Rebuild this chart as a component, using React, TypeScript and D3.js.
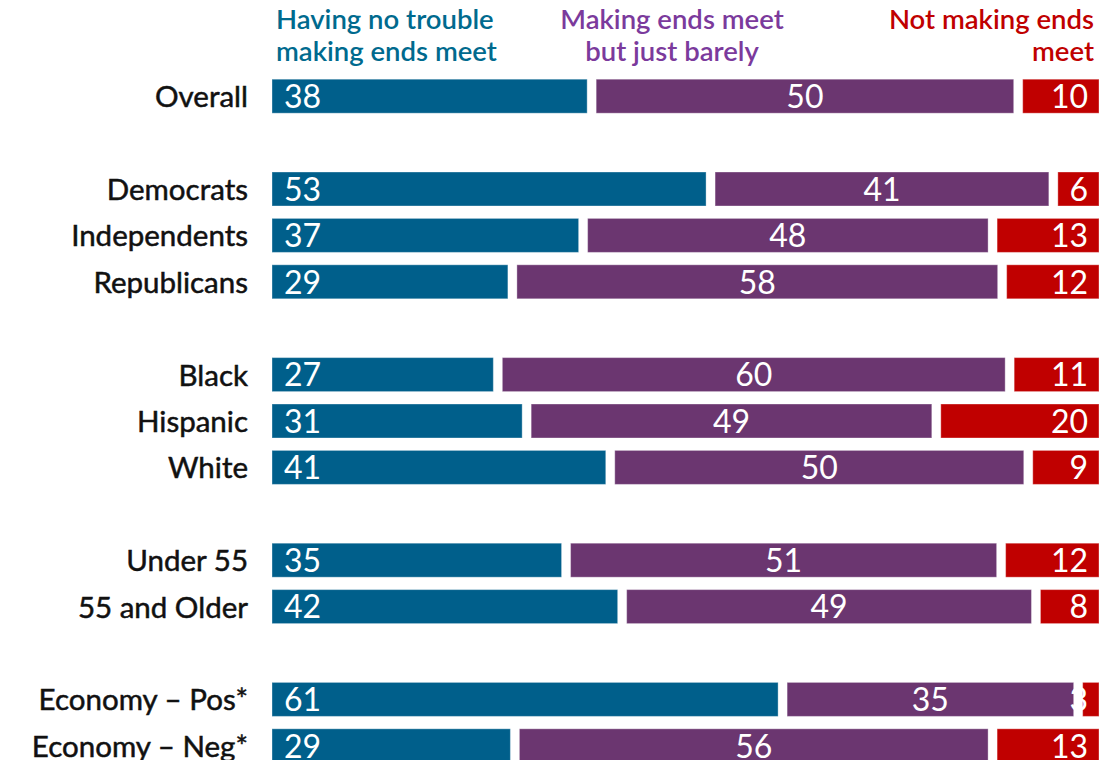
import React from "react";
import * as d3 from "d3";

const categories = [
  "Overall", "", "Democrats", "Independents", "Republicans", "",
  "Black", "Hispanic", "White", "", "Under 55", "55 and Older", "",
  "Economy – Pos*", "Economy – Neg*",
];
const noTrouble = [38, null, 53, 37, 29, null, 27, 31, 41, null, 35, 42, null, 61, 29];
const barely = [50, null, 41, 48, 58, null, 60, 49, 50, null, 51, 49, null, 35, 56];
const notMaking = [10, null, 6, 13, 12, null, 11, 20, 9, null, 12, 8, null, 3, 13];

const seriesNames = [
  ["Having no trouble", "making ends meet"],
  ["Making ends meet", "but just barely"],
  ["Not making ends", "meet"],
];
const barColors = ["#005F8B", "#6B3670", "#C00000"];
const headColors = ["#006A8E", "#7B3A9C", "#C00000"];

const W = 1117, H = 760;
const x0 = 272, x1 = 1099, gap = 9;
const font = "Lato, 'Open Sans', sans-serif";

export default function App() {
  const idx = categories.map((_, i) => i);
  const y = d3.scaleBand<number>().domain(idx).range([73, 769]).paddingInner(0).paddingOuter(0);
  const bh = 34;
  const rows = idx.filter((i) => noTrouble[i] !== null).map((i) => {
    const vals = [noTrouble[i] as number, barely[i] as number, notMaking[i] as number];
    const total = d3.sum(vals);
    const x = d3.scaleLinear().domain([0, total]).range([x0, x1 + gap]);
    let cum = 0;
    const segs = vals.map((v, k) => {
      const a = x(cum);
      cum += v;
      const b = x(cum) - gap;
      return { v, k, a, b };
    });
    return { i, segs };
  });
  return (
    <svg width={W} height={H} style={{ position: "absolute", left: 0, top: 0 }}>
      <rect width={W} height={H} fill="#fff" />
      {/* headers */}
      <g fontFamily={font} fontWeight={600} fontSize={27.5}>
        {seriesNames[0].map((t, j) => (
          <text key={"h0" + j} x={276} y={29 + j * 32} fill={headColors[0]}>{t}</text>
        ))}
        {seriesNames[1].map((t, j) => (
          <text key={"h1" + j} x={672} y={29 + j * 32} fill={headColors[1]} textAnchor="middle">{t}</text>
        ))}
        {seriesNames[2].map((t, j) => (
          <text key={"h2" + j} x={1094} y={29 + j * 32} fill={headColors[2]} textAnchor="end">{t}</text>
        ))}
      </g>
      {rows.map(({ i, segs }) => {
        const cy = (y(i) as number) + y.bandwidth() / 2;
        return (
          <g key={i}>
            <text x={248} y={cy} dy="0.37em" textAnchor="end" fontFamily={font} fontSize={29.5} fill="#111"
              stroke="#111" strokeWidth={0.5}>
              {categories[i]}
            </text>
            {segs.map((s) => (
              <rect key={"r" + s.k} x={s.a} y={cy - bh / 2} width={Math.max(0, s.b - s.a)} height={bh}
                fill={barColors[s.k]} stroke="#ffffff" strokeOpacity={0.35} strokeWidth={1} />
            ))}
            {segs.map((s) => {
              const tx = s.k === 0 ? s.a + 12 : s.k === 1 ? (s.a + s.b) / 2 : s.b - 11;
              const anchor = s.k === 0 ? "start" : s.k === 1 ? "middle" : "end";
              return (
                <text key={"t" + s.k} x={tx} y={cy} dy="0.37em" textAnchor={anchor}
                  fontFamily={font} fontSize={32} fill="#fff">{s.v}</text>
              );
            })}
          </g>
        );
      })}
    </svg>
  );
}
